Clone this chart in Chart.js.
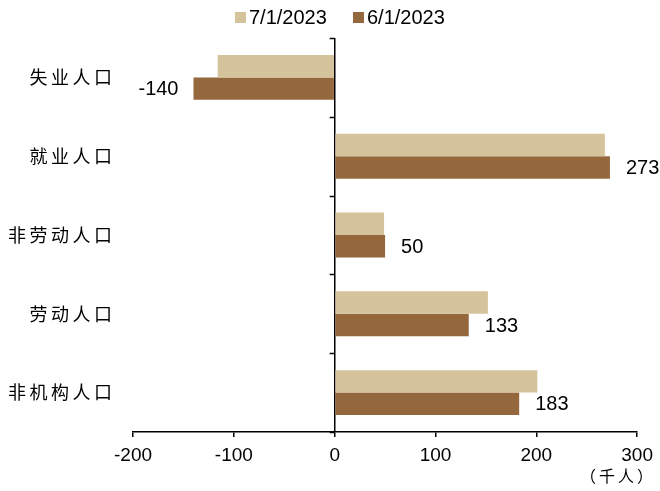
<!DOCTYPE html>
<html>
<head>
<meta charset="utf-8">
<script src="https://cdn.jsdelivr.net/npm/chart.js@4.4.1/dist/chart.umd.min.js"></script>
<style>
  html, body { margin: 0; padding: 0; background: #fff; }
  #wrap { width: 660px; height: 491px; position: relative; }
</style>
</head>
<body>
<div id="wrap"><canvas id="c" width="660" height="491"></canvas></div>
<script>
// Population changes (thousands of people)
const categories = ['失业人口', '就业人口', '非劳动人口', '劳动人口', '非机构人口'];
const seriesNames = ['7/1/2023', '6/1/2023'];
const july = [-116, 268, 49, 152, 201];
const june = [-140, 273, 50, 133, 183];
const xTicks = [-200, -100, 0, 100, 200, 300];
const unitLabel = '（千人）';

const colors = ['#D5C39B', '#94673D'];
const latin = '"Liberation Sans", Arial, sans-serif';
const cjk = '"Noto Sans CJK SC", sans-serif';

// Draws text right-aligned at xRight with extra spacing between characters
function spacedRight(ctx, text, xRight, y, spacing) {
  const chars = Array.from(text);
  const widths = chars.map(ch => ctx.measureText(ch).width);
  const total = widths.reduce((a, b) => a + b, 0) + spacing * (chars.length - 1);
  let x = xRight - total;
  ctx.textAlign = 'left';
  chars.forEach((ch, i) => {
    ctx.fillText(ch, x, y);
    x += widths[i] + spacing;
  });
}

// Legend, category labels, value labels, unit label and category tick marks
const decorations = {
  id: 'decorations',
  afterDraw(chart) {
    const ctx = chart.ctx;
    const xs = chart.scales.x, ys = chart.scales.y;
    ctx.save();

    // legend
    ctx.font = '20px ' + latin;
    ctx.textBaseline = 'middle';
    ctx.textAlign = 'left';
    [235, 353].forEach((lx, i) => {
      ctx.fillStyle = colors[i];
      ctx.fillRect(lx, 12, 11, 11);
      ctx.fillStyle = '#000';
      ctx.fillText(seriesNames[i], lx + 14, 18);
    });

    // category labels
    ctx.font = '18px ' + cjk;
    ctx.fillStyle = '#000';
    categories.forEach((name, i) => {
      spacedRight(ctx, name, 112, ys.getPixelForValue(i), 3.5);
    });

    // value labels on the 6/1 series
    const meta = chart.getDatasetMeta(1);
    ctx.font = '20px ' + latin;
    meta.data.forEach((bar, i) => {
      const v = june[i];
      ctx.fillStyle = '#000';
      ctx.textAlign = v >= 0 ? 'left' : 'right';
      ctx.fillText(String(v), v >= 0 ? bar.x + 16 : bar.x - 15, bar.y + 1);
    });

    // category tick marks on the zero line
    const x0 = xs.getPixelForValue(0);
    const top = chart.chartArea.top, bottom = chart.chartArea.bottom;
    const step = (bottom - top) / categories.length;
    ctx.strokeStyle = '#000';
    ctx.lineWidth = 1.5;
    for (let k = 0; k <= categories.length; k++) {
      const y = Math.round(top + k * step) + 0.5;
      ctx.beginPath();
      ctx.moveTo(x0 - 5, y);
      ctx.lineTo(x0, y);
      ctx.stroke();
    }

    // unit label
    ctx.font = '16px ' + cjk;
    ctx.fillStyle = '#000';
    spacedRight(ctx, unitLabel, 653, 476, 3);
    ctx.restore();
  }
};

new Chart(document.getElementById('c'), {
  type: 'bar',
  data: {
    labels: categories,
    datasets: [
      { label: seriesNames[0], data: july, backgroundColor: colors[0] },
      { label: seriesNames[1], data: june, backgroundColor: colors[1] }
    ]
  },
  options: {
    indexAxis: 'y',
    responsive: false,
    animation: false,
    devicePixelRatio: 1,
    layout: { padding: { top: 38, right: 22, left: 0, bottom: 0 } },
    datasets: { bar: { categoryPercentage: 0.57, barPercentage: 1.0 } },
    plugins: { legend: { display: false }, tooltip: { enabled: false } },
    scales: {
      x: {
        min: -200, max: 300,
        afterBuildTicks(scale) { scale.ticks = xTicks.map(v => ({ value: v })); },
        afterFit(scale) { scale.height = 59; },
        grid: {
          color: c => (c.tick && c.tick.value === 0) ? '#000' : 'rgba(0,0,0,0)',
          lineWidth: 1.5,
          drawTicks: true,
          tickColor: '#000',
          tickLength: 5
        },
        border: { display: true, color: '#000', width: 1.5 },
        ticks: { color: '#000', font: { family: latin, size: 19 }, padding: 7 }
      },
      y: {
        afterFit(scale) { scale.width = 133; },
        grid: { display: false, drawTicks: false },
        border: { display: false },
        ticks: { display: false }
      }
    }
  },
  plugins: [decorations]
});
</script>
</body>
</html>
